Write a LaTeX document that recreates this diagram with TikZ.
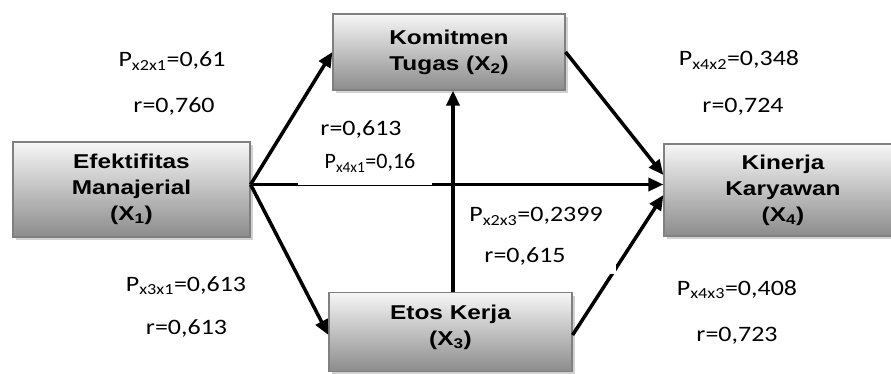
\documentclass[tikz,border=0pt]{standalone}
\usepackage{fontspec}
\usetikzlibrary{arrows.meta,shadows}
\newfontfamily\labfont[FakeStretch=1.18]{Carlito}
\newfontfamily\labnarrow{Carlito}
\newfontfamily\boxfont[FakeStretch=1.22]{Liberation Sans}
\definecolor{boxedge}{RGB}{128,128,128}
\definecolor{boxtop}{RGB}{246,246,246}
\definecolor{boxbot}{RGB}{140,140,140}
\tikzset{
  varbox/.style={draw=boxedge, line width=1.2pt, top color=boxtop, bottom color=boxbot,
    drop shadow={shadow xshift=3pt, shadow yshift=-3pt, fill=gray!45, opacity=0.8},
    align=center, inner sep=0pt, font=\boxfont\bfseries\fontsize{20}{26}\selectfont},
  boxtext/.style={align=center, inner sep=0pt, font=\boxfont\bfseries\fontsize{20}{26}\selectfont},
  conn/.style={line width=3.5pt, -{Triangle[length=15pt,width=13pt]}},
  lab/.style={font=\labfont\fontsize{22}{26}\selectfont, anchor=base, inner sep=0pt},
  labsmall/.style={font=\labnarrow\fontsize{22}{26}\selectfont, anchor=base, inner sep=0pt}
}
\begin{document}
\begin{tikzpicture}[x=1pt,y=-1pt]
\useasboundingbox (0,0) rectangle (891,374);
\clip (0,0) rectangle (891,374);
% boxes
\node[varbox, minimum width=237pt, minimum height=95pt] (X1) at (131.5,189.5)
  {Efektifitas\\Manajerial\\(X\textsubscript{1})};
\node[varbox, minimum width=232pt, minimum height=76pt] (X2) at (449,52)
  {Komitmen\\Tugas (X\textsubscript{2})};
\node[varbox, minimum width=243pt, minimum height=79pt] (X3) at (450.5,332) {};
\node[boxtext] (X3t) at (450.5,327) {Etos Kerja\\(X\textsubscript{3})};
\node[varbox, minimum width=238pt, minimum height=92pt] (X4) at (783,190)
  {Kinerja\\Karyawan\\(X\textsubscript{4})};
% anchor points
\coordinate (s1) at ([yshift=5pt]X1.east);
\coordinate (v) at (453,0);
% connectors
\draw[conn] (s1) -- (X2.west);
\draw[conn] (s1) -- ([yshift=-3pt]X3.west);
\draw[conn] (s1) -- (s1 -| X4.west);
\draw[conn] (X3.north -| v) -- (X2.south -| v);
\draw[conn] (X2.east) -- ([yshift=15pt]X4.west);
\draw[conn] ([yshift=-3pt]X3.east) -- ([yshift=-5pt]X4.west);
% white text-box patches over the lines
\fill[white] (298,176) rectangle (432,184.6);
\fill[white] (470,240) rectangle (616,274);
% labels
\node[lab] (l1) at (172,67) {P\textsubscript{x2x1}=0,61};
\node[lab] (l2) at (174,113) {r=0,760};
\node[lab] (l3) at (739,66) {P\textsubscript{x4x2}=0,348};
\node[lab] (l4) at (743,113) {r=0,724};
\node[lab] (l5) at (361,136) {r=0,613};
\node[labsmall] (l6) at (370,169) {P\textsubscript{x4x1}=0,16};
\node[lab] (l7) at (536,222) {P\textsubscript{x2x3}=0,2399};
\node[lab] (l8) at (525,262) {r=0,615};
\node[lab] (l9) at (186,291) {P\textsubscript{x3x1}=0,613};
\node[lab] (l10) at (186.5,334) {r=0,613};
\node[lab] (l11) at (737,295) {P\textsubscript{x4x3}=0,408};
\node[lab] (l12) at (737,341) {r=0,723};
\end{tikzpicture}
\end{document}
